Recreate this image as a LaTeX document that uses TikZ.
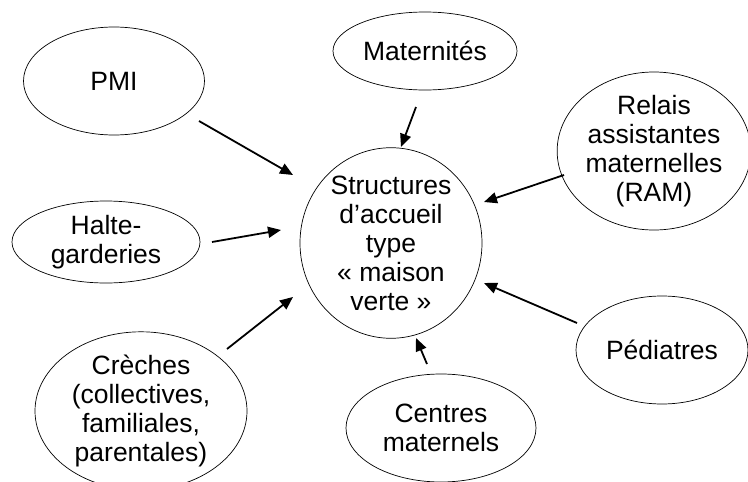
\documentclass[tikz,border=0pt]{standalone}
\usepackage{fontspec}
\setmainfont{Liberation Sans}
\usetikzlibrary{shapes.geometric,arrows.meta}
\begin{document}
\begin{tikzpicture}[x=1pt,y=-1pt,
  bubble/.style={ellipse,draw,line width=0.7pt,inner sep=0pt,align=center,
    font=\fontsize{26.5}{29}\selectfont},
  link/.style={line width=1.8pt,-{Triangle[length=13pt,width=11pt]}}]
\useasboundingbox (0,0) rectangle (748,482);

% partner structures around the central node
\node[bubble,minimum width=182pt,minimum height=180pt] (ctr) at (391,243)
  {Structures\\d’accueil\\type\\«~maison\\verte~»};
\node[bubble,minimum width=181pt,minimum height=108pt] (pmi) at (114,81) {PMI};
\node[bubble,minimum width=184pt,minimum height=78pt] (mat) at (425,51) {Maternités};
\node[bubble,minimum width=184pt,minimum height=158pt] (ram) at (654,151)
  {Relais\\assistantes\\maternelles\\(RAM)};
\node[bubble,minimum width=188pt,minimum height=82pt] (halte) at (106,242)
  {Halte-\\garderies};
\node[bubble,minimum width=212pt,minimum height=140pt] (creche) at (141,411)
  {Crèches\\(collectives,\\familiales,\\parentales)};
\node[bubble,minimum width=190pt,minimum height=108pt] (centres) at (441,428)
  {Centres\\maternels};
\node[bubble,minimum width=172pt,minimum height=108pt] (ped) at (662,350) {Pédiatres};

% free ends of the arrows, set a little apart from the outlines
\coordinate (pmi-t) at (199,121);     \coordinate (pmi-h) at (293,175);
\coordinate (halte-t) at (212,242);   \coordinate (halte-h) at (281,230);
\coordinate (creche-t) at (227,349);  \coordinate (creche-h) at (293,297);
\coordinate (mat-t) at (416,107);     \coordinate (mat-h) at (401,147);
\coordinate (ram-t) at (564,175);     \coordinate (ram-h) at (484,202);
\coordinate (ped-t) at (577,323);     \coordinate (ped-h) at (484,283);
\coordinate (centres-t) at (427,364); \coordinate (centres-h) at (416,338);

\draw[link] (pmi-t) -- (pmi-h);
\draw[link] (halte-t) -- (halte-h);
\draw[link] (creche-t) -- (creche-h);
\draw[link] (mat-t) -- (mat-h);
\draw[link] (ram-t) -- (ram-h);
\draw[link] (ped-t) -- (ped-h);
\draw[link] (centres-t) -- (centres-h);
\end{tikzpicture}
\end{document}
